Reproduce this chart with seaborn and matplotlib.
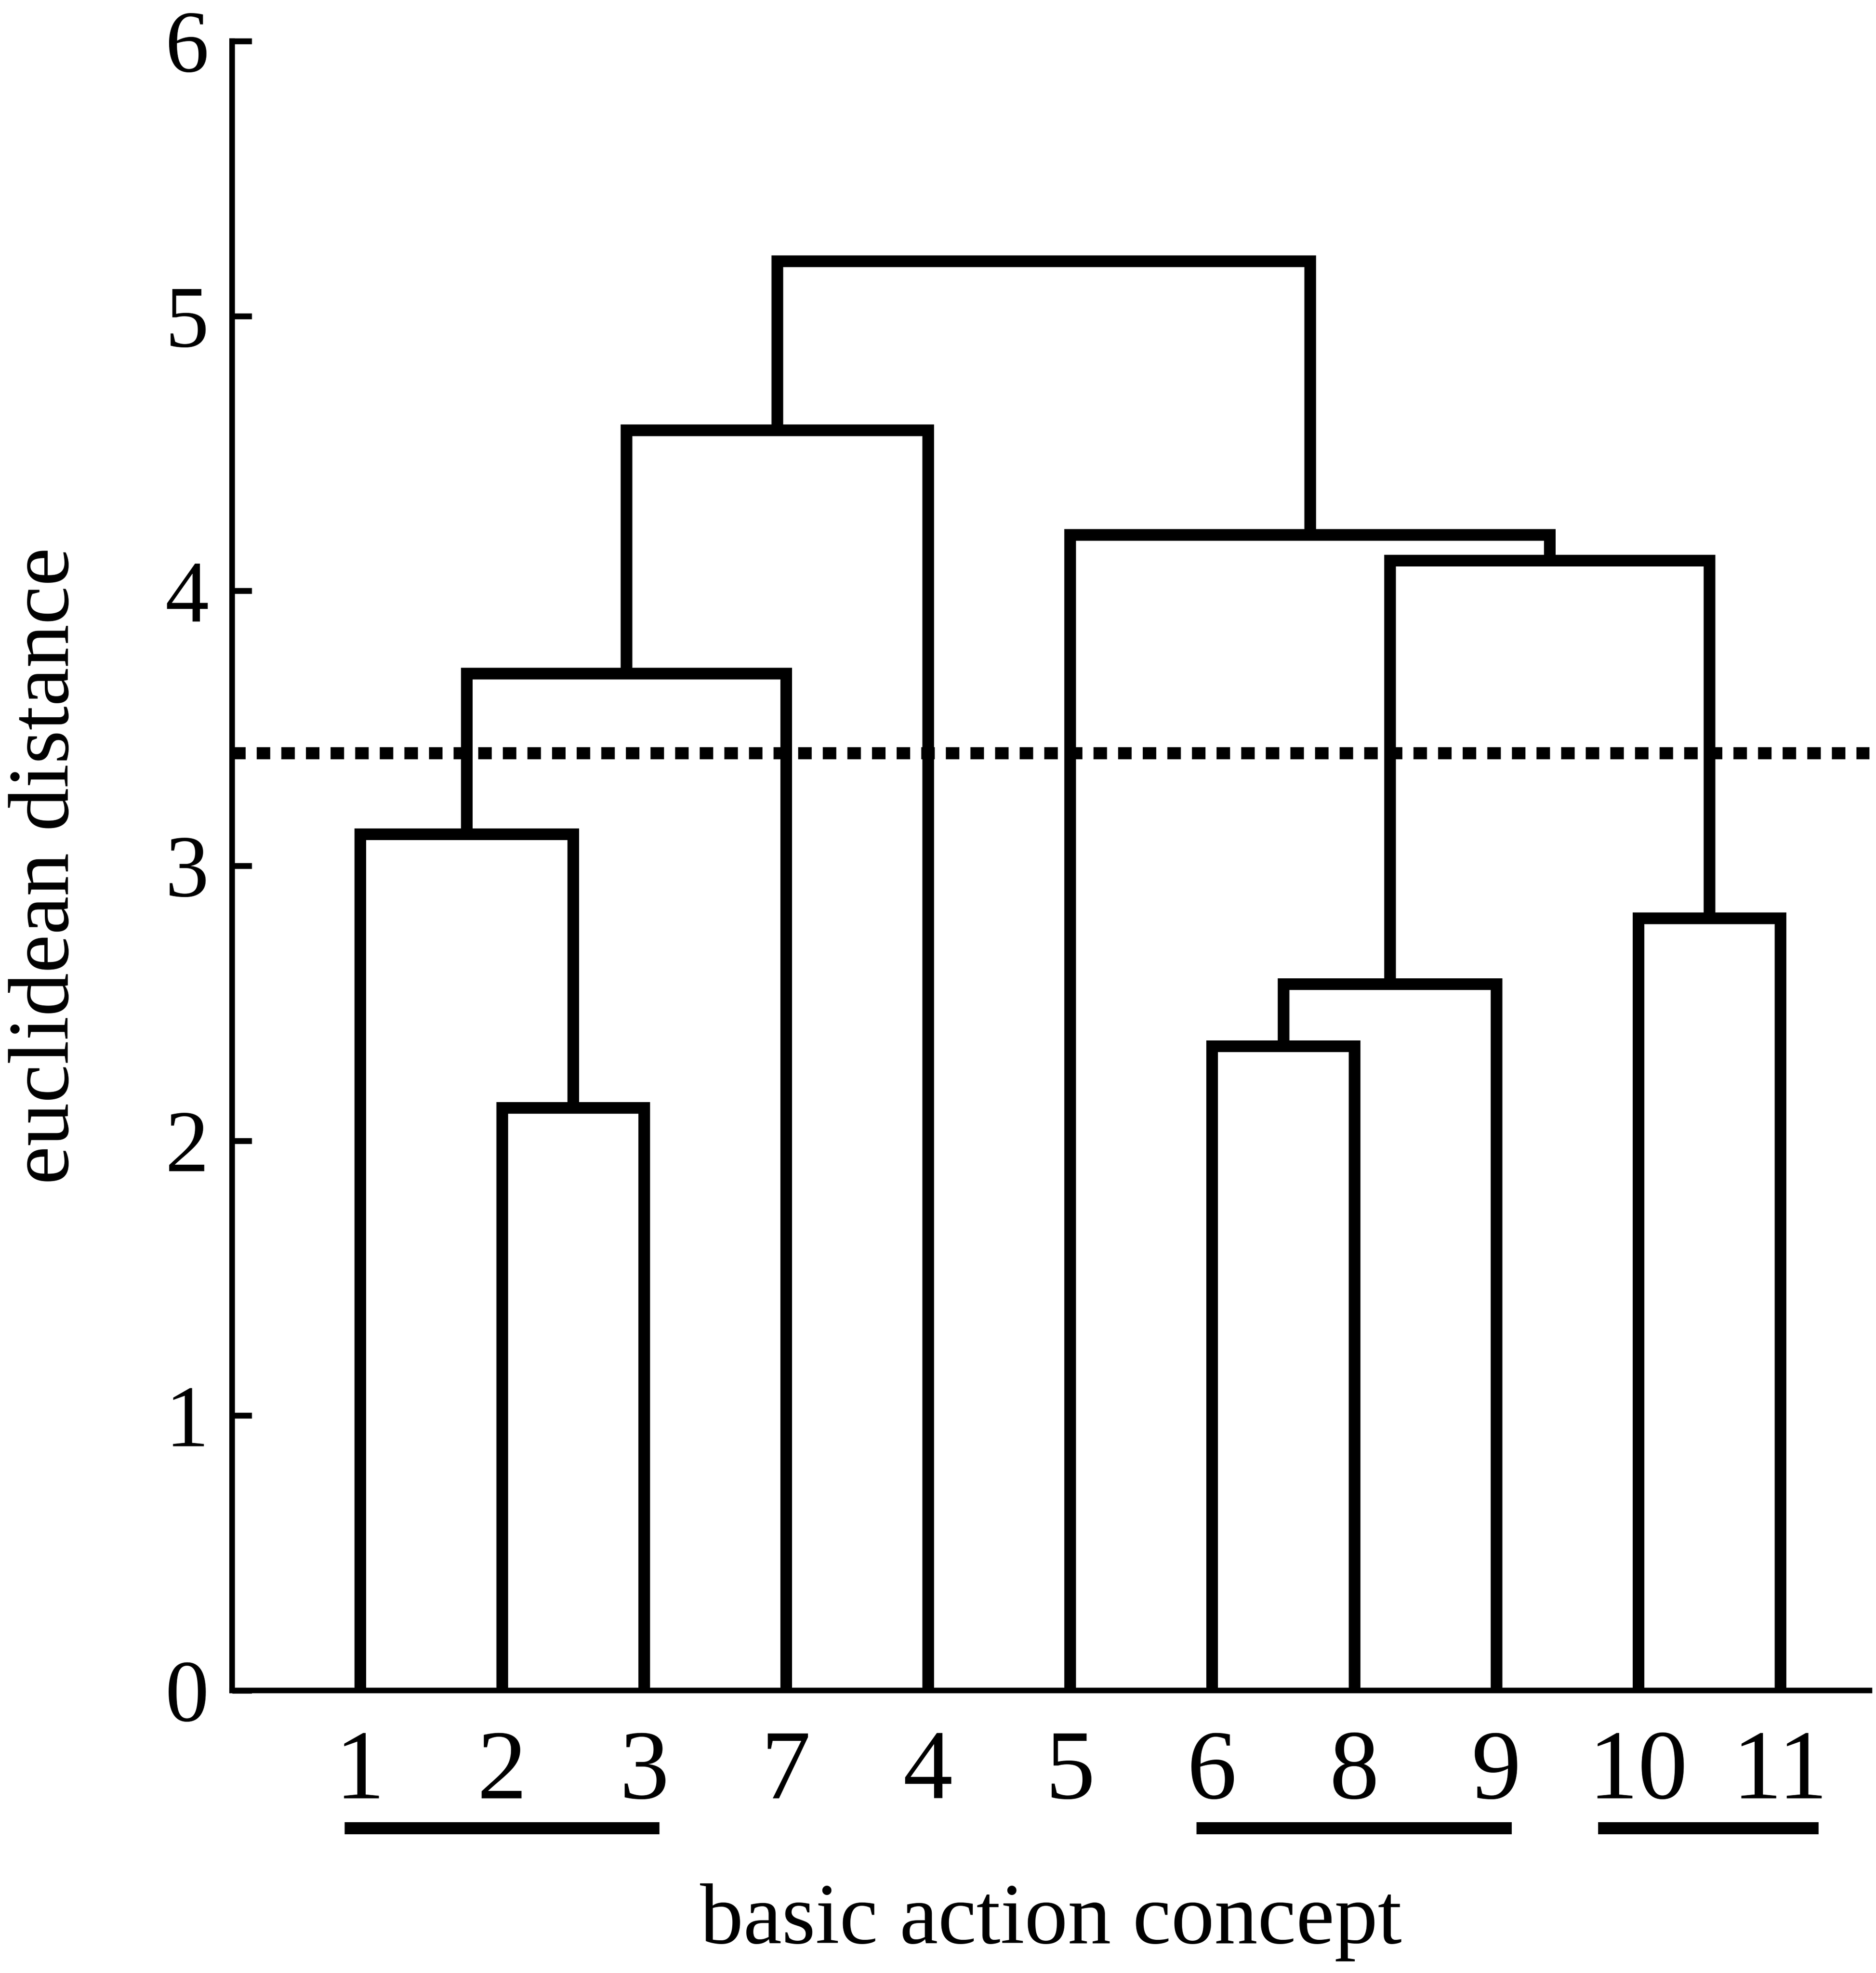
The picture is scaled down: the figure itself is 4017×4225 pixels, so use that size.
import numpy as np
import pandas as pd
import matplotlib
matplotlib.use("Agg")
import matplotlib.pyplot as plt
import matplotlib.transforms as mtransforms
import seaborn as sns

# leaves in dendrogram order
leaf_labels = ["1", "2", "3", "7", "4", "5", "6", "8", "9", "10", "11"]
# linkage: ids 0-10 are the leaves above, each merge k gets id 11+k
link_left = [1, 0, 12, 13, 6, 15, 9, 16, 5, 14]
link_right = [2, 11, 3, 4, 7, 8, 10, 17, 18, 19]
link_height = [2.12, 3.115, 3.70, 4.585, 2.345, 2.57, 2.81, 4.11, 4.205, 5.20]
cut_height = 3.41
groups = [("1", "3"), ("6", "9"), ("10", "11")]
y_ticks = [0, 1, 2, 3, 4, 5, 6]

sns.set_theme(style="ticks")
plt.rcParams["font.family"] = ["Liberation Serif", "DejaVu Serif"]

# build the U-shaped links of the dendrogram
n = len(leaf_labels)
xpos = {i: float(i) for i in range(n)}
ypos = {i: 0.0 for i in range(n)}
rows = []
for k, (a, b, h) in enumerate(zip(link_left, link_right, link_height)):
    pts = [(xpos[a], ypos[a]), (xpos[a], h), (xpos[b], h), (xpos[b], ypos[b])]
    for order, (x, y) in enumerate(pts):
        rows.append({"link": k, "order": order, "x": x, "y": y})
    xpos[n + k] = (xpos[a] + xpos[b]) / 2
    ypos[n + k] = h
links = pd.DataFrame(rows)

fig = plt.figure(figsize=(4017 / 300, 4225 / 300), dpi=300)
ax = fig.add_axes([0.1238, 0.1432, 0.8727, 0.836])

sns.lineplot(data=links, x="x", y="y", units="link", estimator=None,
             sort=False, color="black", lw=6.0, ax=ax,
             solid_joinstyle="miter", solid_capstyle="butt")

ax.axhline(cut_height, color="black", lw=6.2,
           linestyle=(0, (1.12, 0.92)), dash_capstyle="butt")

ax.set_xlim(-0.899, 10.628)
ax.set_ylim(0, 6)
sns.despine(ax=ax)
for side in ["left", "bottom"]:
    ax.spines[side].set_linewidth(2.9)
    ax.spines[side].set_color("black")

ax.set_yticks(y_ticks)
ax.set_yticklabels([str(t) for t in y_ticks])
ax.tick_params(axis="y", direction="in", length=10, width=3, pad=12,
               labelsize=45, colors="black")
ax.set_xticks(range(n))
ax.set_xticklabels(leaf_labels)
ax.tick_params(axis="x", length=0, pad=20, labelsize=51, colors="black")

ax.set_xlabel("basic action concept", fontsize=44.5, color="black")
ax.set_ylabel("euclidean distance", fontsize=44.5, color="black")
ax.xaxis.set_label_coords(0.5, -0.117)
ax.yaxis.set_label_coords(-0.089, 0.5)

# underline the groups under the leaf labels
fig.canvas.draw()
renderer = fig.canvas.get_renderer()
ticklabels = ax.get_xticklabels()
inv = ax.transData.inverted()
trans = mtransforms.blended_transform_factory(ax.transData, ax.transAxes)
for lo, hi in groups:
    b0 = ticklabels[leaf_labels.index(lo)].get_window_extent(renderer)
    b1 = ticklabels[leaf_labels.index(hi)].get_window_extent(renderer)
    x0 = inv.transform((b0.x0 + 20, 0))[0]
    x1 = inv.transform((b1.x1 - 20, 0))[0]
    ax.plot([x0, x1], [-0.0835, -0.0835], color="black", lw=6.2,
            solid_capstyle="butt", transform=trans, clip_on=False)

fig.savefig("out.png", dpi=300)
